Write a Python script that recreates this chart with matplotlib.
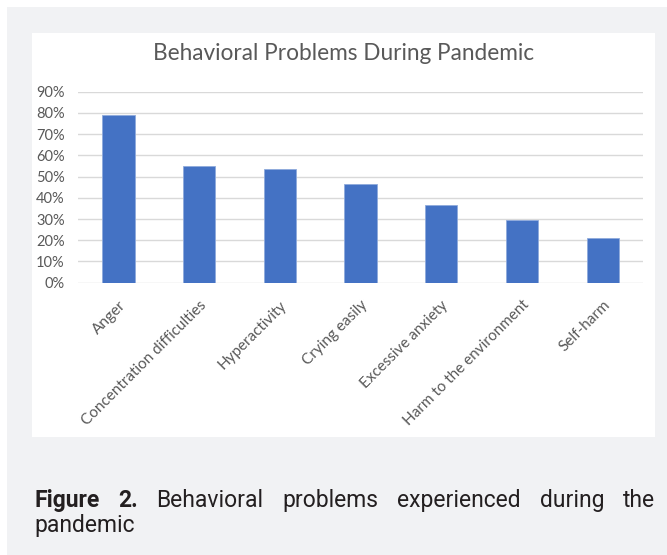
import matplotlib
matplotlib.use("Agg")
import matplotlib.pyplot as plt
from matplotlib.patches import Rectangle
from matplotlib.ticker import FixedLocator, PercentFormatter

categories = ["Anger", "Concentration difficulties", "Hyperactivity", "Crying easily",
              "Excessive anxiety", "Harm to the environment", "Self-harm"]
percentages = [78.9, 54.8, 53.4, 46.5, 36.6, 29.5, 21.0]
y_ticks = [0, 10, 20, 30, 40, 50, 60, 70, 80, 90]

chart_title = "Behavioral Problems During Pandemic"
caption_bold = ["Figure", "2."]
caption_words = ["Behavioral", "problems", "experienced", "during", "the"]
caption_last_line = "pandemic"

W, H = 667, 555
fig = plt.figure(figsize=(W / 100, H / 100), dpi=100, facecolor="white")

# page background and white chart panel, in pixel units
def px_rect(x0, y0, x1, y1, color):
    fig.patches.append(Rectangle((x0 / W, 1 - y1 / H), (x1 - x0) / W, (y1 - y0) / H,
                                 transform=fig.transFigure, facecolor=color,
                                 edgecolor="none", zorder=-10))

px_rect(7, 7, W, H, "#f1f2f4")
px_rect(32, 33, 655, 437, "white")

chart_font = ["Lato", "DejaVu Sans"]
text_grey = "#595959"

ax = fig.add_axes([78 / W, 1 - 282.7 / H, (643 - 78) / W, (282.7 - 91.7) / H])
ax.set_zorder(1)
ax.set_facecolor("none")
x = range(len(categories))
ax.bar(x, percentages, width=0.4, color="#4472c4", edgecolor="#8faadc", linewidth=0.6, zorder=3)
ax.set_xlim(-0.5, len(categories) - 0.5)
ax.set_ylim(0, 90)
ax.yaxis.set_major_locator(FixedLocator(y_ticks))
ax.yaxis.set_major_formatter(PercentFormatter(decimals=0))
ax.grid(axis="y", color="#d9d9d9", linewidth=1.0, zorder=0)
for s in ax.spines.values():
    s.set_visible(False)
ax.tick_params(length=0, labelsize=10.5, labelcolor=text_grey)
ax.tick_params(axis="y", pad=9.5)
ax.set_xticks(list(x))
ax.set_xticklabels(categories, rotation=45, ha="right", va="top",
                   rotation_mode="anchor", family=chart_font, fontsize=11)
ax.tick_params(axis="x", pad=11)
for lbl in ax.get_yticklabels():
    lbl.set_family(chart_font)

fig.text(344 / W, 1 - 53 / H, chart_title, ha="center", va="center",
         fontsize=16.3, color=text_grey, family=chart_font)

# justified figure caption
cap_font = ["Roboto", "DejaVu Sans"]
cap_kw = dict(fontsize=16.5, color="#231f20", family=cap_font, va="baseline", ha="left")
renderer = fig.canvas.get_renderer()
words = [(w, "bold") for w in caption_bold] + [(w, "normal") for w in caption_words]
items = []
for w, weight in words:
    t = fig.text(0, 1 - 507 / H, w, fontweight=weight, **cap_kw)
    items.append(t)
widths = [t.get_window_extent(renderer).width for t in items]
left, right = 34, 655
gap = (right - left - sum(widths)) / (len(items) - 1)
pos = left
for t, wd in zip(items, widths):
    t.set_x(pos / W)
    pos += wd + gap
fig.text(left / W, 1 - 532 / H, caption_last_line, **cap_kw)

fig.savefig("out.png", dpi=100, facecolor="white")
